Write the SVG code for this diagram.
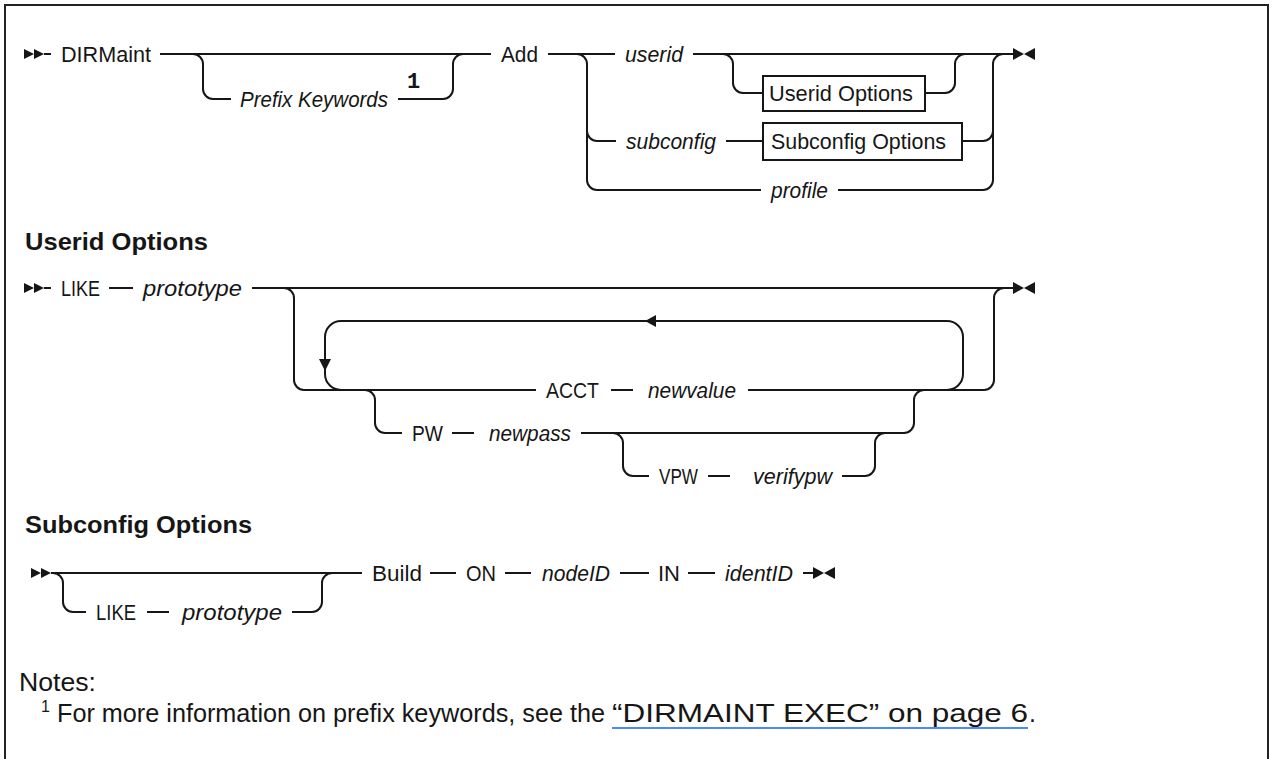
<svg xmlns="http://www.w3.org/2000/svg" width="1273" height="759" viewBox="0 0 1273 759">
<style>
  .t{font-family:"Liberation Sans",Arial,sans-serif;font-size:22px;fill:#161616}
  .i{font-style:italic}
  .h{font-family:"Liberation Sans",Arial,sans-serif;font-size:24px;font-weight:bold;fill:#161616}
  .n{font-family:"Liberation Sans",Arial,sans-serif;font-size:25px;fill:#161616}
  .ln{fill:none;stroke:#161616;stroke-width:2}
  .box{fill:#fff;stroke:#161616;stroke-width:2}
  .mk{fill:#161616;stroke:none}
  .fr{fill:none;stroke:#222;stroke-width:2}
</style>
<rect width="1273" height="759" fill="#fff"/>
<path class="fr" d="M5,760 V5 H1268 V760"/>

<!-- Diagram 1 nodes -->
<g id="d1-dirmaint"><text class="t" x="61" y="62" textLength="90" lengthAdjust="spacingAndGlyphs">DIRMaint</text></g>
<g id="d1-prefix"><text class="t i" x="240" y="107" textLength="148" lengthAdjust="spacingAndGlyphs">Prefix Keywords</text>
  <text x="407" y="88" font-family="'Liberation Mono',monospace" font-size="22" font-weight="bold" fill="#161616">1</text></g>
<g id="d1-add"><text class="t" x="501" y="62" textLength="37" lengthAdjust="spacingAndGlyphs">Add</text></g>
<g id="d1-userid"><text class="t i" x="625" y="62" textLength="58" lengthAdjust="spacingAndGlyphs">userid</text></g>
<g id="d1-userid-options"><rect class="box" x="763" y="76" width="162" height="35"/><text class="t" x="769" y="101" textLength="144" lengthAdjust="spacingAndGlyphs">Userid Options</text></g>
<g id="d1-subconfig"><text class="t i" x="626" y="149" textLength="90" lengthAdjust="spacingAndGlyphs">subconfig</text></g>
<g id="d1-subconfig-options"><rect class="box" x="763" y="123" width="199" height="37"/><text class="t" x="771" y="149" textLength="175" lengthAdjust="spacingAndGlyphs">Subconfig Options</text></g>
<g id="d1-profile"><text class="t i" x="771" y="198" textLength="57" lengthAdjust="spacingAndGlyphs">profile</text></g>

<!-- Diagram 2 -->
<g id="h-userid"><text class="h" x="25" y="250" textLength="183" lengthAdjust="spacingAndGlyphs">Userid Options</text></g>
<g id="d2-like"><text class="t" x="61" y="296" textLength="39" lengthAdjust="spacingAndGlyphs">LIKE</text></g>
<g id="d2-prototype"><text class="t i" x="143" y="296" textLength="99" lengthAdjust="spacingAndGlyphs">prototype</text></g>
<g id="d2-acct"><text class="t" x="546" y="398" textLength="53" lengthAdjust="spacingAndGlyphs">ACCT</text></g>
<g id="d2-newvalue"><text class="t i" x="648" y="398" textLength="88" lengthAdjust="spacingAndGlyphs">newvalue</text></g>
<g id="d2-pw"><text class="t" x="412" y="441" textLength="31" lengthAdjust="spacingAndGlyphs">PW</text></g>
<g id="d2-newpass"><text class="t i" x="489" y="441" textLength="82" lengthAdjust="spacingAndGlyphs">newpass</text></g>
<g id="d2-vpw"><text class="t" x="659" y="484" textLength="39" lengthAdjust="spacingAndGlyphs">VPW</text></g>
<g id="d2-verifypw"><text class="t i" x="753" y="484" textLength="79" lengthAdjust="spacingAndGlyphs">verifypw</text></g>

<!-- Diagram 3 -->
<g id="h-subconfig"><text class="h" x="25" y="533" textLength="227" lengthAdjust="spacingAndGlyphs">Subconfig Options</text></g>
<g id="d3-like"><text class="t" x="96" y="620" textLength="40" lengthAdjust="spacingAndGlyphs">LIKE</text></g>
<g id="d3-prototype"><text class="t i" x="182" y="620" textLength="100" lengthAdjust="spacingAndGlyphs">prototype</text></g>
<g id="d3-build"><text class="t" x="372" y="581" textLength="50" lengthAdjust="spacingAndGlyphs">Build</text></g>
<g id="d3-on"><text class="t" x="466" y="581" textLength="30" lengthAdjust="spacingAndGlyphs">ON</text></g>
<g id="d3-nodeid"><text class="t i" x="542" y="581" textLength="68" lengthAdjust="spacingAndGlyphs">nodeID</text></g>
<g id="d3-in"><text class="t" x="658" y="581" textLength="22" lengthAdjust="spacingAndGlyphs">IN</text></g>
<g id="d3-identid"><text class="t i" x="725" y="581" textLength="68" lengthAdjust="spacingAndGlyphs">identID</text></g>

<!-- Notes -->
<g id="notes">
  <text class="n" x="19" y="691" textLength="77" lengthAdjust="spacingAndGlyphs">Notes:</text>
  <text x="41" y="712" font-family="'Liberation Sans',Arial,sans-serif" font-size="16" fill="#161616">1</text>
  <text class="n" x="57" y="722" textLength="548" lengthAdjust="spacingAndGlyphs">For more information on prefix keywords, see the</text>
  <text class="n" x="612" y="722" textLength="416" lengthAdjust="spacingAndGlyphs">“DIRMAINT EXEC” on page 6</text>
  <text class="n" x="1029" y="722">.</text>
  <line x1="612" y1="728" x2="1028" y2="728" stroke="#0f62fe" stroke-width="1.5"/>
</g>

<!-- Connectors -->
<g id="connectors">
  <!-- diagram 1 -->
  <polygon class="mk" points="24,49 34,54 24,59"/>
  <polygon class="mk" points="34,49 44,54 34,59"/>
  <path class="ln" d="M44,54 H51"/>
  <path class="ln" d="M160,54 H491"/>
  <path class="ln" d="M193,54 A10,10 0 0 1 203,64 V89 A10,10 0 0 0 213,99 H231"/>
  <path class="ln" d="M398,99 H443 A10,10 0 0 0 453,89 V64 A10,10 0 0 1 463,54"/>
  <path class="ln" d="M548,54 H615"/>
  <path class="ln" d="M577,54 A10,10 0 0 1 587,64 V180 A10,10 0 0 0 597,190 H761"/>
  <path class="ln" d="M587,131 A10,10 0 0 0 597,141 H616"/>
  <path class="ln" d="M693,54 H1013"/>
  <path class="ln" d="M723,54 A10,10 0 0 1 733,64 V83 A10,10 0 0 0 743,93 H763"/>
  <path class="ln" d="M925,93 H945 A10,10 0 0 0 955,83 V64 A10,10 0 0 1 965,54"/>
  <path class="ln" d="M726,141 H763"/>
  <path class="ln" d="M962,141 H983 A10,10 0 0 0 993,131"/>
  <path class="ln" d="M838,190 H983 A10,10 0 0 0 993,180 V64 A10,10 0 0 1 1003,54"/>
  <polygon class="mk" points="1013,48 1024,54 1013,60"/>
  <polygon class="mk" points="1035,48 1024,54 1035,60"/>

  <!-- diagram 2 -->
  <polygon class="mk" points="24,283 34,288 24,293"/>
  <polygon class="mk" points="34,283 44,288 34,293"/>
  <path class="ln" d="M44,288 H51"/>
  <path class="ln" d="M109,288 H133"/>
  <path class="ln" d="M252,288 H1013"/>
  <path class="ln" d="M284,288 A10,10 0 0 1 294,298 V380 A10,10 0 0 0 304,390 H536"/>
  <path class="ln" d="M611,390 H633"/>
  <path class="ln" d="M748,390 H984 A10,10 0 0 0 994,380 V298 A10,10 0 0 1 1004,288"/>
  <!-- loop -->
  <path class="ln" d="M341,390 A16,16 0 0 1 325,374 V337 A16,16 0 0 1 341,321 H947 A16,16 0 0 1 963,337 V374 A16,16 0 0 1 947,390"/>
  <polygon class="mk" points="645,321 656,315 656,327"/>
  <polygon class="mk" points="319,359 331,359 325,371"/>
  <!-- PW -->
  <path class="ln" d="M365,390 A10,10 0 0 1 375,400 V423 A10,10 0 0 0 385,433 H402"/>
  <path class="ln" d="M452,433 H474"/>
  <path class="ln" d="M581,433 H904 A10,10 0 0 0 914,423 V400 A10,10 0 0 1 924,390"/>
  <path class="ln" d="M613,433 A10,10 0 0 1 623,443 V466 A10,10 0 0 0 633,476 H649"/>
  <path class="ln" d="M708,476 H730"/>
  <path class="ln" d="M842,476 H865 A10,10 0 0 0 875,466 V443 A10,10 0 0 1 885,433"/>
  <polygon class="mk" points="1013,282 1024,288 1013,294"/>
  <polygon class="mk" points="1035,282 1024,288 1035,294"/>

  <!-- diagram 3 -->
  <polygon class="mk" points="31,568 41,573 31,578"/>
  <polygon class="mk" points="41,568 51,573 41,578"/>
  <path class="ln" d="M51,573 H362"/>
  <path class="ln" d="M53,573 A10,10 0 0 1 63,583 V602 A10,10 0 0 0 73,612 H86"/>
  <path class="ln" d="M147,612 H169"/>
  <path class="ln" d="M292,612 H312 A10,10 0 0 0 322,602 V583 A10,10 0 0 1 332,573"/>
  <path class="ln" d="M430,573 H456"/>
  <path class="ln" d="M505,573 H531"/>
  <path class="ln" d="M620,573 H649"/>
  <path class="ln" d="M688,573 H715"/>
  <path class="ln" d="M803,573 H813"/>
  <polygon class="mk" points="813,567 824,573 813,579"/>
  <polygon class="mk" points="835,567 824,573 835,579"/>
</g>
</svg>
